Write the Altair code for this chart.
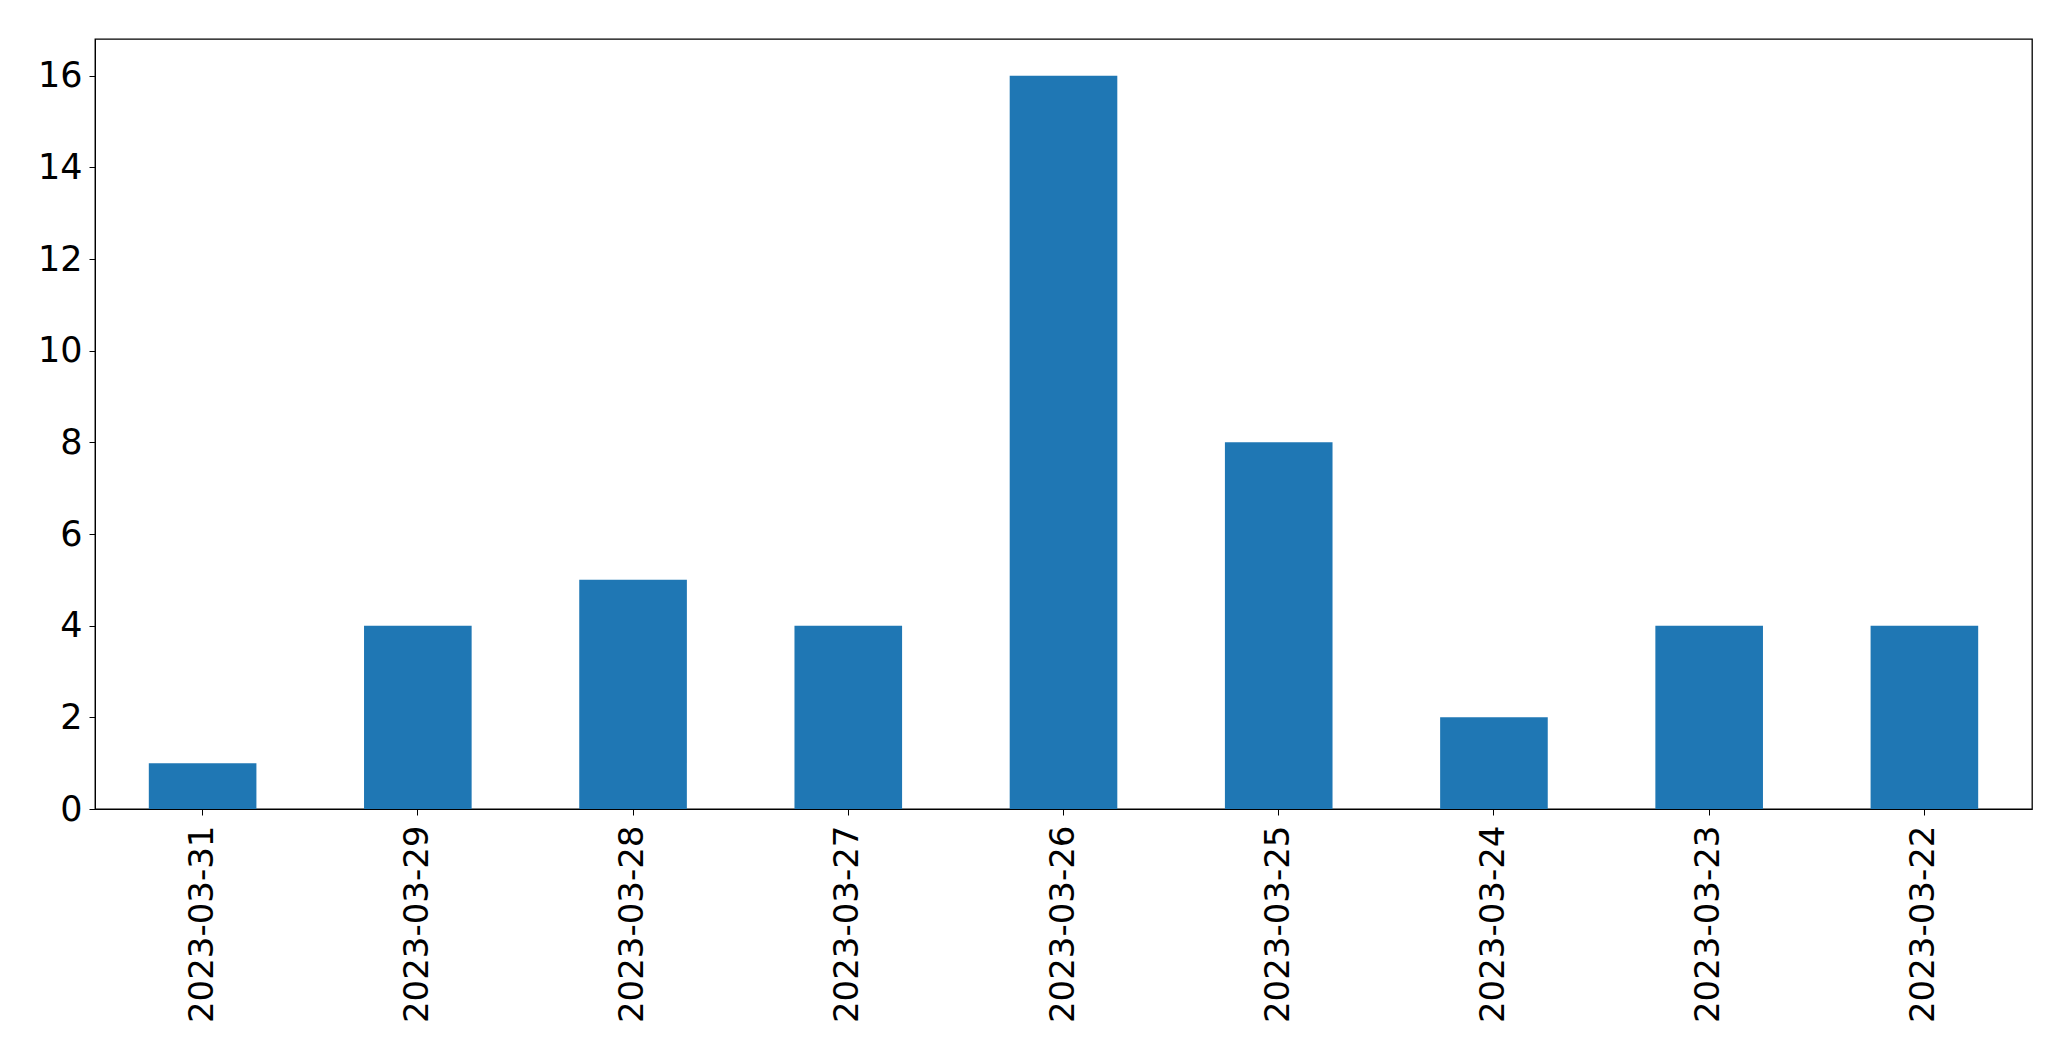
import altair as alt
import pandas as pd

dates = ["2023-03-31", "2023-03-29", "2023-03-28", "2023-03-27", "2023-03-26",
         "2023-03-25", "2023-03-24", "2023-03-23", "2023-03-22"]
counts = [1, 4, 5, 4, 16, 8, 2, 4, 4]
y_ticks = [0, 2, 4, 6, 8, 10, 12, 14, 16]

df = pd.DataFrame({"date": dates, "count": counts})

FONT = "DejaVu Sans"

chart = alt.Chart(df).mark_bar(color="#1f77b4").encode(
    x=alt.X("date:N", sort=dates, title=None,
            scale=alt.Scale(paddingInner=0.5, paddingOuter=0.25),
            axis=alt.Axis(labelAngle=270, labelAlign="right", labelBaseline="middle",
                          labelFontSize=34, labelFont=FONT, labelColor="black",
                          labelLimit=0,
                          tickColor="black", tickSize=6, tickWidth=1,
                          domainColor="black", labelPadding=10, grid=False)),
    y=alt.Y("count:Q", title=None,
            scale=alt.Scale(domain=[0, 16.8], nice=False, zero=True),
            axis=alt.Axis(values=y_ticks, labelFontSize=35, labelFont=FONT,
                          labelColor="black", tickColor="black", tickSize=6,
                          tickWidth=1, domainColor="black", labelPadding=7,
                          grid=False)),
).properties(
    width=1937, height=770,
    background="white",
    autosize=alt.AutoSizeParams(type="none"),
    padding={"left": 87, "top": 31, "right": 30, "bottom": 236},
).configure_view(
    stroke="black", strokeWidth=1.3
)

chart.save("out.html", embed_options={"renderer": "svg", "actions": False})
